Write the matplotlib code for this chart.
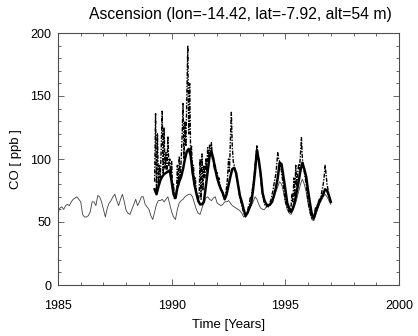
import numpy as np
import matplotlib
matplotlib.use("Agg")
import matplotlib.pyplot as plt
from matplotlib.ticker import MultipleLocator

plt.rcParams['font.family'] = ['Liberation Sans', 'DejaVu Sans']

# thin line: monthly, 1985.0 - 1997.0
thin_start = 1985.0
thin_co = [
    58, 61, 62, 60, 63, 64, 63, 66, 68, 69, 70, 68,
    66, 56, 54, 54, 55, 58, 66, 66, 63, 71, 70, 66,
    60, 54, 61, 65, 67, 70, 72, 67, 63, 68, 72, 66,
    59, 57, 56, 60, 64, 68, 63, 66, 70, 70, 64, 62,
    60, 55, 52, 58, 64, 67, 67, 68, 66, 68, 70, 64,
    58, 54, 52, 60, 65, 67, 68, 70, 71, 72, 72, 70,
    65, 60, 57, 56, 61, 65, 69, 70, 68, 67, 69, 70,
    65, 64, 63, 64, 66, 66, 67, 65, 63, 62, 61, 60,
    59, 57, 54, 55, 58, 61, 63, 66, 70, 68, 64, 61,
    60, 60, 62, 64, 63, 66, 70, 74, 78, 82, 80, 74,
    66, 60, 57, 56, 59, 63, 68, 74, 80, 84, 80, 74,
    65, 58, 52, 51, 55, 60, 64, 67, 70, 72, 70, 67,
    64,
]

# thick line: monthly, 1989.25 - 1997.0
thick_start = 1989.25
thick_co = [
    76, 72, 78, 83, 86, 88, 89, 90, 91, 82, 72, 69,
    77, 82, 86, 92, 100, 106, 108, 103, 90, 80, 73, 67,
    64, 64, 66, 78, 90, 102, 106, 100, 92, 85, 80, 76,
    73, 68, 72, 79, 86, 92, 93, 89, 80, 71, 66, 60,
    55, 57, 61, 65, 76, 90, 107, 99, 88, 73, 67, 64,
    63, 64, 66, 71, 77, 85, 97, 96, 86, 76, 65, 61,
    58, 61, 66, 74, 82, 91, 97, 92, 86, 75, 65, 56,
    53, 58, 62, 67, 69, 72, 76, 75, 71, 66,
]

# dash-dot line: semi-monthly, 1989.25 - 1997.0
obs_start = 1989.25
obs_co = [
    82, 136, 74, 120, 80, 95, 85, 110, 138, 88, 125, 92,
    105, 90, 118, 95, 100, 85, 98, 75, 80, 68, 72, 70,
    95, 80, 102, 85, 98, 118, 144, 100, 130, 110, 150, 190,
    120, 160, 105, 110, 88, 95, 80, 85, 74, 70, 66, 72,
    100, 68, 104, 75, 95, 85, 100, 90, 109, 98, 111, 105,
    113, 100, 98, 92, 95, 88, 90, 82, 85, 78, 76, 74,
    72, 70, 68, 72, 78, 85, 100, 90, 115, 137, 110, 98,
    95, 90, 88, 84, 80, 74, 70, 66, 64, 60, 58, 55,
    54, 56, 58, 62, 64, 70, 68, 75, 80, 85, 95, 100,
    111, 104, 98, 92, 85, 76, 72, 68, 64, 63, 62, 63,
    62, 64, 66, 68, 72, 75, 80, 84, 88, 96, 105, 100,
    98, 94, 90, 84, 78, 72, 66, 64, 62, 60, 58, 60,
    62, 72, 66, 85, 70, 95, 78, 88, 96, 92, 105, 117,
    100, 95, 90, 85, 80, 72, 66, 62, 58, 55, 53, 52,
    54, 58, 62, 60, 64, 62, 68, 66, 72, 76, 80, 86,
    95, 88, 80, 76, 72, 68, 65,
]

thin_t = thin_start + np.arange(len(thin_co)) / 12.0
thick_t = thick_start + np.arange(len(thick_co)) / 12.0
obs_t = obs_start + np.arange(len(obs_co)) / 24.0

fig = plt.figure(figsize=(4.18, 3.36), dpi=100)
ax = fig.add_axes([58 / 418, 51 / 336, 341 / 418, 252 / 336])

ax.plot(thin_t, thin_co, color='0.25', linewidth=0.6)
ax.plot(obs_t, obs_co, color='black', linewidth=1.0, linestyle=(0, (3, 1, 1, 1)))
ax.plot(thick_t, thick_co, color='black', linewidth=1.8)

ax.set_xlim(1985, 2000)
ax.set_ylim(0, 200)
ax.xaxis.set_major_locator(MultipleLocator(5))
ax.xaxis.set_minor_locator(MultipleLocator(1))
ax.yaxis.set_major_locator(MultipleLocator(50))
ax.yaxis.set_minor_locator(MultipleLocator(10))
ax.tick_params(which='both', direction='in', top=True, right=True,
               labelsize=9, width=0.6, color='0.3')
ax.tick_params(which='major', length=4)
ax.tick_params(which='minor', length=2.5)
ax.tick_params(axis='x', pad=11)
ax.tick_params(axis='y', pad=5)
for s in ax.spines.values():
    s.set_linewidth(0.8)
    s.set_color('0.3')

ax.set_xlabel("Time [Years]", fontsize=9.5, labelpad=5)
ax.set_ylabel("CO [ ppb ]", fontsize=9.5, labelpad=6)
fig.text(240 / 418, 1 - 14 / 336, "Ascension (lon=-14.42, lat=-7.92, alt=54 m)",
         ha='center', va='center', fontsize=11.3)

fig.savefig("out.png", dpi=100)
